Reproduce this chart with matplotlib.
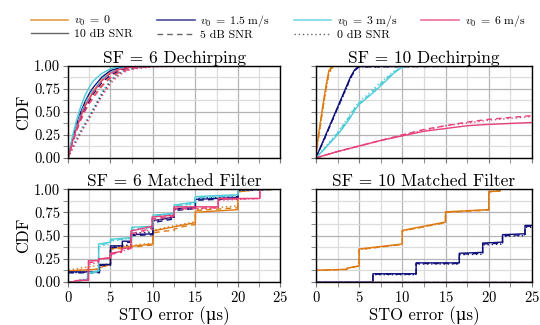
import matplotlib
matplotlib.use("Agg")
import matplotlib.pyplot as plt
from matplotlib.lines import Line2D
from matplotlib.ticker import MultipleLocator, FormatStrFormatter

plt.rcParams['font.family'] = ['cmr10', 'DejaVu Serif']
plt.rcParams['mathtext.fontset'] = 'cm'
plt.rcParams['axes.formatter.use_mathtext'] = True

# velocities / snr levels
vel_labels = [r'$v_0\;=\;0$', r'$v_0\;=\;1.5\;\mathrm{m/s}$', r'$v_0\;=\;3\;\mathrm{m/s}$', r'$v_0\;=\;6\;\mathrm{m/s}$']
vel_colors = ['#dd7a12', '#10107a', '#4ccbd8', '#e8407a']
snr_labels = ['10 dB SNR', '5 dB SNR', '0 dB SNR']
snr_styles = ['-', (0, (4, 3)), (0, (1, 2))]

# ---- SF = 6 dechirping (shared x grid) ----
dc6_x = [0, 0.5, 1, 1.5, 2, 2.5, 3, 4, 5, 6, 7, 8, 10, 15, 25]
dc6 = {
    (0, 0): [0, 0.18, 0.33, 0.46, 0.57, 0.65, 0.73, 0.85, 0.93, 0.97, 0.99, 1, 1, 1, 1],
    (0, 1): [0, 0.16, 0.30, 0.42, 0.52, 0.60, 0.67, 0.79, 0.88, 0.94, 0.97, 0.99, 1, 1, 1],
    (0, 2): [0, 0.10, 0.19, 0.28, 0.36, 0.44, 0.52, 0.69, 0.83, 0.91, 0.96, 0.98, 0.995, 1, 1],
    (1, 0): [0, 0.20, 0.36, 0.50, 0.61, 0.70, 0.77, 0.88, 0.95, 0.98, 0.99, 1, 1, 1, 1],
    (1, 1): [0, 0.17, 0.32, 0.44, 0.54, 0.62, 0.70, 0.82, 0.90, 0.95, 0.98, 0.99, 1, 1, 1],
    (1, 2): [0, 0.11, 0.20, 0.29, 0.37, 0.45, 0.53, 0.70, 0.84, 0.92, 0.96, 0.98, 0.995, 1, 1],
    (2, 0): [0, 0.23, 0.41, 0.56, 0.68, 0.77, 0.84, 0.92, 0.97, 0.99, 1, 1, 1, 1, 1],
    (2, 1): [0, 0.19, 0.35, 0.48, 0.59, 0.68, 0.75, 0.86, 0.93, 0.97, 0.99, 1, 1, 1, 1],
    (2, 2): [0, 0.12, 0.22, 0.31, 0.39, 0.47, 0.55, 0.72, 0.85, 0.92, 0.96, 0.98, 0.995, 1, 1],
    (3, 0): [0, 0.17, 0.32, 0.45, 0.56, 0.64, 0.72, 0.84, 0.92, 0.96, 0.98, 0.99, 1, 1, 1],
    (3, 1): [0, 0.15, 0.29, 0.41, 0.51, 0.59, 0.66, 0.78, 0.87, 0.93, 0.96, 0.98, 0.995, 1, 1],
    (3, 2): [0, 0.10, 0.18, 0.27, 0.35, 0.43, 0.51, 0.67, 0.81, 0.90, 0.95, 0.97, 0.99, 1, 1],
}

# ---- SF = 10 dechirping ----
dc10_orange_x = [0, 0.1, 0.5, 0.9, 1.2, 1.5, 1.8, 2.2, 25]
dc10_orange = [[0, 0.12, 0.38, 0.63, 0.80, 0.95, 0.99, 1, 1],
               [0, 0.10, 0.35, 0.60, 0.77, 0.92, 0.98, 1, 1],
               [0, 0.09, 0.33, 0.57, 0.75, 0.90, 0.97, 0.995, 1]]
dc10_navy_x = [0, 1, 2, 3, 3.5, 4, 4.5, 5, 25]
dc10_navy = [[0, 0.22, 0.44, 0.66, 0.77, 0.88, 0.96, 1, 1],
             [0, 0.21, 0.43, 0.65, 0.76, 0.87, 0.95, 0.99, 1],
             [0, 0.21, 0.43, 0.64, 0.75, 0.86, 0.95, 0.99, 1]]
dc10_cyan_x = [0, 1, 2, 3, 4, 4.5, 5, 5.5, 6, 7, 8, 9, 10, 10.5, 25]
dc10_cyan = [[0, 0.10, 0.20, 0.31, 0.44, 0.52, 0.58, 0.62, 0.66, 0.74, 0.83, 0.92, 0.99, 1, 1],
             [0, 0.10, 0.21, 0.33, 0.46, 0.54, 0.60, 0.63, 0.67, 0.76, 0.85, 0.93, 0.99, 1, 1],
             [0, 0.11, 0.22, 0.34, 0.48, 0.55, 0.61, 0.65, 0.69, 0.78, 0.86, 0.94, 0.995, 1, 1]]
dc10_pink_x = [0, 2.5, 5, 7.5, 10, 12.5, 15, 17.5, 20, 22.5, 25]
dc10_pink = [[0, 0.07, 0.13, 0.19, 0.24, 0.29, 0.32, 0.35, 0.365, 0.375, 0.385],
             [0, 0.07, 0.13, 0.19, 0.25, 0.31, 0.35, 0.39, 0.42, 0.44, 0.46],
             [0, 0.07, 0.13, 0.19, 0.25, 0.30, 0.35, 0.38, 0.41, 0.43, 0.45]]

# ---- SF = 6 matched filter (step vertices) ----
mf6_orange = [
    ([0, 0, 3.7, 3.7, 5, 5, 10, 10, 15, 15, 20, 20, 21.3, 21.3, 25],
     [0, 0.12, 0.14, 0.155, 0.19, 0.36, 0.41, 0.55, 0.64, 0.75, 0.78, 0.97, 0.985, 1, 1]),
    ([0, 0, 3.7, 3.7, 5, 5, 10, 10, 11.5, 12.5, 12.5, 13.7, 15, 15, 20, 20, 25],
     [0, 0.12, 0.14, 0.155, 0.19, 0.35, 0.40, 0.53, 0.55, 0.555, 0.57, 0.60, 0.62, 0.77, 0.80, 0.98, 1]),
    ([0, 0, 5, 5, 10, 10, 15, 15, 20, 20, 25],
     [0, 0.13, 0.20, 0.37, 0.42, 0.56, 0.65, 0.78, 0.82, 0.98, 1]),
]
mf6_navy = [
    ([0, 0, 3.7, 3.7, 5, 5, 6.4, 6.4, 7.4, 7.4, 10, 10, 12.5, 12.5, 15, 15, 20, 20, 25],
     [0, 0.11, 0.11, 0.19, 0.19, 0.39, 0.39, 0.44, 0.44, 0.51, 0.52, 0.66, 0.70, 0.79, 0.80, 0.89, 0.91, 0.99, 1]),
    ([0, 0, 3.7, 3.7, 5, 5, 6.4, 6.4, 7.4, 7.4, 10, 10, 12.5, 12.5, 15, 15, 20, 20, 25],
     [0, 0.10, 0.10, 0.18, 0.18, 0.37, 0.38, 0.42, 0.43, 0.50, 0.51, 0.64, 0.68, 0.77, 0.79, 0.88, 0.90, 0.99, 1]),
    ([0, 0, 3.7, 3.7, 5, 5, 7.4, 7.4, 10, 10, 12.5, 12.5, 15, 15, 20, 20, 25],
     [0, 0.10, 0.11, 0.18, 0.19, 0.38, 0.40, 0.52, 0.54, 0.66, 0.69, 0.78, 0.80, 0.90, 0.92, 0.99, 1]),
]
mf6_cyan = [
    ([0, 1.4, 1.4, 2.3, 2.3, 3.6, 3.6, 5, 5, 7.5, 7.5, 10, 10, 12.5, 12.5, 15, 15, 20, 20, 25],
     [0, 0, 0.02, 0.03, 0.10, 0.12, 0.41, 0.43, 0.46, 0.48, 0.59, 0.60, 0.72, 0.74, 0.83, 0.86, 0.92, 0.94, 1, 1]),
    ([0, 1.4, 1.4, 2.3, 2.3, 3.6, 3.6, 5, 5, 7.5, 7.5, 10, 10, 12.5, 12.5, 15, 15, 20, 20, 25],
     [0, 0, 0.02, 0.03, 0.09, 0.11, 0.40, 0.42, 0.45, 0.47, 0.57, 0.59, 0.71, 0.73, 0.82, 0.85, 0.91, 0.93, 1, 1]),
    ([0, 1.4, 1.4, 2.3, 2.3, 3.6, 3.6, 5, 5, 7.5, 7.5, 10, 10, 12.5, 12.5, 15, 15, 20, 20, 25],
     [0, 0, 0.02, 0.04, 0.08, 0.11, 0.38, 0.41, 0.44, 0.47, 0.56, 0.58, 0.70, 0.73, 0.81, 0.84, 0.90, 0.93, 0.99, 1]),
]
mf6_pink = [
    ([0, 0.8, 0.8, 2.4, 2.4, 3.6, 3.6, 5, 5, 6.3, 6.3, 7.4, 7.4, 9.9, 9.9, 12.5, 12.5, 17.7, 17.7, 22.6, 22.6, 25],
     [0, 0, 0.015, 0.02, 0.23, 0.23, 0.25, 0.26, 0.31, 0.33, 0.36, 0.37, 0.55, 0.60, 0.70, 0.72, 0.81, 0.81, 0.90, 0.90, 1, 1]),
    ([0, 0.8, 0.8, 2.4, 2.4, 3.6, 3.6, 5, 5, 6.3, 6.3, 7.4, 7.4, 9.9, 9.9, 12.5, 12.5, 17.7, 17.7, 22.6, 22.6, 25],
     [0, 0, 0.015, 0.02, 0.21, 0.22, 0.25, 0.26, 0.30, 0.32, 0.35, 0.36, 0.52, 0.58, 0.68, 0.71, 0.79, 0.80, 0.89, 0.90, 1, 1]),
    ([0, 0.8, 0.8, 2.4, 2.4, 3.6, 3.6, 5, 5, 7.4, 7.4, 9.9, 9.9, 12.5, 12.5, 17.7, 17.7, 22.6, 22.6, 25],
     [0, 0, 0.015, 0.03, 0.19, 0.21, 0.24, 0.26, 0.30, 0.36, 0.50, 0.57, 0.66, 0.70, 0.78, 0.80, 0.88, 0.90, 1, 1]),
]

# ---- SF = 10 matched filter ----
mf10_orange = [
    ([0, 0, 3.6, 3.6, 5, 5, 10, 10, 15, 15, 20, 20, 21.3, 21.3, 25],
     [0, 0.127, 0.138, 0.15, 0.175, 0.356, 0.41, 0.556, 0.647, 0.756, 0.78, 0.975, 0.98, 1, 1]),
    ([0, 0, 3.6, 3.6, 5, 5, 10, 10, 15, 15, 20, 20, 21.3, 21.3, 25],
     [0, 0.125, 0.136, 0.148, 0.172, 0.35, 0.405, 0.55, 0.64, 0.75, 0.775, 0.97, 0.98, 1, 1]),
    ([0, 0, 3.6, 3.6, 5, 5, 10, 10, 15, 15, 20, 20, 21.3, 21.3, 25],
     [0, 0.125, 0.136, 0.148, 0.172, 0.35, 0.405, 0.55, 0.64, 0.75, 0.775, 0.97, 0.98, 1, 1]),
]
mf10_navy = [
    ([0, 6.6, 6.6, 11.6, 11.6, 16.6, 16.6, 19.3, 19.3, 21.6, 21.6, 24.2, 24.2, 25],
     [0, 0, 0.09, 0.09, 0.207, 0.207, 0.31, 0.32, 0.42, 0.43, 0.51, 0.52, 0.61, 0.61]),
    ([0, 6.6, 6.6, 11.6, 11.6, 16.6, 16.6, 19.3, 19.3, 21.6, 21.6, 24.2, 24.2, 25],
     [0, 0, 0.085, 0.085, 0.2, 0.2, 0.30, 0.31, 0.41, 0.42, 0.50, 0.51, 0.60, 0.60]),
    ([0, 6.6, 6.6, 11.6, 11.6, 16.6, 16.6, 19.3, 19.3, 21.6, 21.6, 24.2, 24.2, 25],
     [0, 0, 0.08, 0.08, 0.195, 0.195, 0.295, 0.30, 0.40, 0.41, 0.49, 0.50, 0.59, 0.59]),
]
mf10_zero = ([0, 25], [0, 0])

fig = plt.figure(figsize=(5.4, 3.25), dpi=100)
axes = [
    fig.add_axes([0.126, 0.514, 0.393, 0.283]),
    fig.add_axes([0.585, 0.514, 0.400, 0.283]),
    fig.add_axes([0.126, 0.132, 0.393, 0.286]),
    fig.add_axes([0.585, 0.132, 0.400, 0.286]),
]
titles = ['SF = 6 Dechirping', 'SF = 10 Dechirping', 'SF = 6 Matched Filter', 'SF = 10 Matched Filter']

lw = 1.0
# panel 0
ax = axes[0]
for v in range(4):
    for s in range(3):
        ax.plot(dc6_x, dc6[(v, s)], color=vel_colors[v], ls=snr_styles[s], lw=lw)
# panel 1
ax = axes[1]
for v, (xs, ys) in enumerate([(dc10_orange_x, dc10_orange), (dc10_navy_x, dc10_navy),
                              (dc10_cyan_x, dc10_cyan), (dc10_pink_x, dc10_pink)]):
    for s in range(3):
        ax.plot(xs, ys[s], color=vel_colors[v], ls=snr_styles[s], lw=lw)
# panel 2
ax = axes[2]
for v, curves in enumerate([mf6_orange, mf6_navy, mf6_cyan, mf6_pink]):
    for s, (xs, ys) in enumerate(curves):
        ax.plot(xs, ys, color=vel_colors[v], ls=snr_styles[s], lw=lw)
# panel 3
ax = axes[3]
for v, curves in enumerate([mf10_orange, mf10_navy, [mf10_zero] * 3, [mf10_zero] * 3]):
    for s, (xs, ys) in enumerate(curves):
        ax.plot(xs, ys, color=vel_colors[v], ls=snr_styles[s], lw=lw)

for i, ax in enumerate(axes):
    ax.set_xlim(0, 25)
    ax.set_ylim(0, 1)
    ax.xaxis.set_major_locator(MultipleLocator(5))
    ax.xaxis.set_minor_locator(MultipleLocator(2.5))
    ax.yaxis.set_major_locator(MultipleLocator(0.25))
    ax.yaxis.set_minor_locator(MultipleLocator(0.125))
    ax.grid(which='major', color='#b4b4b4', lw=0.9)
    ax.grid(which='minor', color='#dcdcdc', lw=0.9)
    ax.set_axisbelow(True)
    ax.tick_params(which='both', direction='out', length=3.5, color='#777777', labelsize=10.5, pad=2)
    for sp in ax.spines.values():
        sp.set_linewidth(1.0)
    ax.set_title(titles[i], fontsize=12.5, pad=2)
    if i in (1, 3):
        ax.tick_params(labelleft=False)
    else:
        ax.set_ylabel('CDF', fontsize=12, labelpad=2)
        ax.yaxis.set_major_formatter(FormatStrFormatter('%.2f'))
    if i in (0, 1):
        ax.tick_params(labelbottom=False)
    else:
        ax.set_xlabel('STO error (μs)', fontsize=12, labelpad=1)

handles = [
    Line2D([], [], color=vel_colors[0], lw=1.2, alpha=0.75),
    Line2D([], [], color='#666666', lw=1.0),
    Line2D([], [], color=vel_colors[1], lw=1.2, alpha=0.75),
    Line2D([], [], color='#666666', lw=1.0, ls=snr_styles[1]),
    Line2D([], [], color=vel_colors[2], lw=1.2, alpha=0.75),
    Line2D([], [], color='#666666', lw=1.0, ls=snr_styles[2]),
    Line2D([], [], color=vel_colors[3], lw=1.2, alpha=0.75),
]
labels = [vel_labels[0], snr_labels[0], vel_labels[1], snr_labels[1],
          vel_labels[2], snr_labels[2], vel_labels[3]]
fig.legend(handles, labels, loc='upper center', bbox_to_anchor=(0.515, 0.985), ncol=4,
           frameon=False, fontsize=8.5, handlelength=3.2, columnspacing=2.0,
           handletextpad=0.5, labelspacing=0.05, borderaxespad=0.3)

fig.savefig('out.png', dpi=100)
